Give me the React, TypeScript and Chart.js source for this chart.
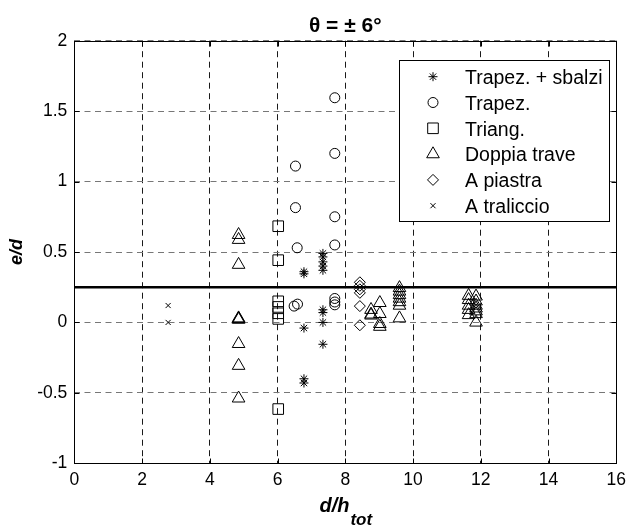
import React, { useEffect, useRef } from 'react';
import { Chart, registerables } from 'chart.js';

Chart.register(...registerables);

// ---- Axis ticks ----
const xTickValues = [0, 2, 4, 6, 8, 10, 12, 14, 16];
const xTickLabels = ['0', '2', '4', '6', '8', '10', '12', '14', '16'];
const yTickValues = [-1, -0.5, 0, 0.5, 1, 1.5, 2];
const yTickLabels = ['-1', '-0.5', '0', '0.5', '1', '1.5', '2'];

// ---- Texts ----
const titleText = 'θ = ± 6°';
const xLabelMain = 'd/h';
const xLabelSub = 'tot';
const yLabelText = 'e/d';

// ---- Series ----
const seriesLabels = ['Trapez. + sbalzi', 'Trapez.', 'Triang.', 'Doppia trave', 'A piastra', 'A traliccio'];

const trapSbalziX = [6.78, 6.78, 6.78, 6.78, 6.78, 7.34, 7.34, 7.34, 7.34, 7.34, 7.34, 7.34, 7.34, 7.34];
const trapSbalziY = [0.36, 0.345, -0.04, -0.40, -0.43, 0.49, 0.465, 0.43, 0.40, 0.37, 0.09, 0.07, 0.0, -0.155];

const trapezX = [6.53, 6.53, 6.58, 6.49, 6.59, 7.69, 7.69, 7.69, 7.69, 7.69, 7.69, 7.69];
const trapezY = [1.11, 0.815, 0.53, 0.116, 0.13, 1.595, 1.2, 0.75, 0.55, 0.17, 0.145, 0.125];

const triangX = [6.02, 6.02, 6.02, 6.02, 6.02, 6.02, 6.02];
const triangY = [0.683, 0.442, 0.15, 0.11, 0.065, 0.025, -0.615];

const doppiaX = [
  4.85, 4.85, 4.85, 4.85, 4.85, 4.85, 4.85, 4.85, 4.85,
  8.76, 8.76, 8.76,
  9.02, 9.02, 9.02, 9.02,
  9.6, 9.6, 9.6, 9.6, 9.6, 9.6, 9.6,
  11.64, 11.64, 11.64, 11.64, 11.64,
  11.86, 11.86, 11.86, 11.86, 11.86, 11.86, 11.86,
];
const doppiaY = [
  0.622, 0.587, 0.41, 0.03, 0.025, 0.02, -0.152, -0.307, -0.539,
  0.09, 0.057, 0.05,
  0.139, 0.061, -0.01, -0.03,
  0.245, 0.22, 0.195, 0.17, 0.145, 0.12, 0.03,
  0.19, 0.16, 0.12, 0.09, 0.053,
  0.185, 0.15, 0.12, 0.1, 0.08, 0.06, 0.0,
];

const piastraX = [8.43, 8.43, 8.43, 8.43, 8.43, 8.43];
const piastraY = [0.285, 0.26, 0.235, 0.21, 0.116, -0.02];

const tralicX = [2.77, 2.77];
const tralicY = [0.12, 0.0];

// reference line
const refLineX = [0, 16];
const refLineY = [0.25, 0.25];

const FONT = "'Liberation Sans', Arial, Helvetica, sans-serif";

const toPts = (xs: number[], ys: number[]) => xs.map((x, i) => ({ x, y: ys[i] }));

function drawMarker(ctx: CanvasRenderingContext2D, style: string, x: number, y: number, r: number) {
  ctx.beginPath();
  switch (style) {
    case 'circle':
      ctx.arc(x, y, r, 0, Math.PI * 2);
      ctx.closePath();
      break;
    case 'rect': {
      const s = Math.SQRT1_2 * r;
      ctx.rect(x - s, y - s, 2 * s, 2 * s);
      break;
    }
    case 'triangle': {
      let a = 0;
      ctx.moveTo(x + Math.sin(a) * r, y - Math.cos(a) * r);
      a += (2 * Math.PI) / 3;
      ctx.lineTo(x + Math.sin(a) * r, y - Math.cos(a) * r);
      a += (2 * Math.PI) / 3;
      ctx.lineTo(x + Math.sin(a) * r, y - Math.cos(a) * r);
      ctx.closePath();
      break;
    }
    case 'rectRot':
      ctx.moveTo(x - r, y);
      ctx.lineTo(x, y - r);
      ctx.lineTo(x + r, y);
      ctx.lineTo(x, y + r);
      ctx.closePath();
      break;
    case 'crossRot': {
      const o = Math.SQRT1_2 * r;
      ctx.moveTo(x - o, y - o);
      ctx.lineTo(x + o, y + o);
      ctx.moveTo(x - o, y + o);
      ctx.lineTo(x + o, y - o);
      break;
    }
    case 'star': {
      const o = Math.SQRT1_2 * r;
      ctx.moveTo(x, y - r);
      ctx.lineTo(x, y + r);
      ctx.moveTo(x - r, y);
      ctx.lineTo(x + r, y);
      ctx.moveTo(x - o, y - o);
      ctx.lineTo(x + o, y + o);
      ctx.moveTo(x - o, y + o);
      ctx.lineTo(x + o, y - o);
      break;
    }
  }
  ctx.stroke();
}

const labelFor = (vals: number[], labels: string[], v: number) => {
  const i = vals.findIndex((t) => Math.abs(t - v) < 1e-9);
  return i >= 0 ? labels[i] : '';
};

const decorPlugin = {
  id: 'matlabDecor',
  afterDraw(chart: any) {
    const ctx: CanvasRenderingContext2D = chart.ctx;
    const area = chart.chartArea;
    const xs = chart.scales.x;
    const ys = chart.scales.y;
    ctx.save();
    ctx.setLineDash([]);
    ctx.strokeStyle = '#000';
    ctx.lineWidth = 1;

    // inward ticks
    const tl = 5;
    const L = Math.round(area.left) + 0.5;
    const R = Math.round(area.right) + 0.5;
    const T = Math.round(area.top) + 0.5;
    const B = Math.round(area.bottom) + 0.5;
    ctx.beginPath();
    xTickValues.forEach((v) => {
      const px = Math.round(xs.getPixelForValue(v)) + 0.5;
      ctx.moveTo(px, B);
      ctx.lineTo(px, B - tl);
      ctx.moveTo(px, T);
      ctx.lineTo(px, T + tl);
    });
    yTickValues.forEach((v) => {
      const py = Math.round(ys.getPixelForValue(v)) + 0.5;
      ctx.moveTo(L, py);
      ctx.lineTo(L + tl, py);
      ctx.moveTo(R, py);
      ctx.lineTo(R - tl, py);
    });
    ctx.stroke();

    // axes box
    ctx.strokeRect(L, T, R - L, B - T);

    // title
    ctx.fillStyle = '#000';
    ctx.textAlign = 'center';
    ctx.textBaseline = 'alphabetic';
    ctx.font = `bold 21px ${FONT}`;
    const cx = (area.left + area.right) / 2;
    ctx.fillText(titleText, cx, 31.5);

    // x label with subscript
    ctx.textAlign = 'left';
    const mainFont = `italic bold 20px ${FONT}`;
    const subFont = `italic bold 17px ${FONT}`;
    ctx.font = mainFont;
    const w1 = ctx.measureText(xLabelMain).width;
    ctx.font = subFont;
    const w2 = ctx.measureText(xLabelSub).width;
    const startX = cx - (w1 + w2) / 2;
    ctx.font = mainFont;
    ctx.fillText(xLabelMain, startX, 512.3);
    ctx.font = subFont;
    ctx.fillText(xLabelSub, startX + w1 + 1, 525);

    // y label
    ctx.save();
    ctx.translate(21.7, (area.top + area.bottom) / 2);
    ctx.rotate(-Math.PI / 2);
    ctx.textAlign = 'center';
    ctx.font = `italic bold 18px ${FONT}`;
    ctx.fillText(yLabelText, 0, 0);
    ctx.restore();

    // legend
    const bx = 399.5, by = 60.5, bw = 210, bh = 161;
    ctx.fillStyle = '#fff';
    ctx.fillRect(bx, by, bw, bh);
    ctx.strokeStyle = '#000';
    ctx.lineWidth = 1;
    ctx.strokeRect(bx, by, bw, bh);
    ctx.font = `19.5px ${FONT}`;
    ctx.textAlign = 'left';
    ctx.textBaseline = 'alphabetic';
    const items = chart.data.datasets.filter((d: any) => !d.hideInLegend);
    items.forEach((d: any, i: number) => {
      const base = 84 + i * 25.8;
      const my = base - 7.3;
      ctx.strokeStyle = '#000';
      ctx.lineWidth = 1;
      drawMarker(ctx, d.pointStyle, 433, my, d.pointRadius);
      ctx.fillStyle = '#000';
      ctx.fillText(d.label, 465, base);
    });
    ctx.restore();
  },
};

export default function App() {
  const ref = useRef<HTMLCanvasElement | null>(null);

  useEffect(() => {
    if (!ref.current) return;
    const mk = (label: string, xs: number[], ys: number[], style: string, r: number) => ({
      type: 'scatter' as const,
      label,
      data: toPts(xs, ys),
      pointStyle: style,
      pointRadius: r,
      pointHoverRadius: r,
      borderColor: '#000',
      pointBorderColor: '#000',
      backgroundColor: 'rgba(0,0,0,0)',
      pointBackgroundColor: 'rgba(0,0,0,0)',
      borderWidth: 1,
      pointBorderWidth: 1,
    });

    const chart = new Chart(ref.current, {
      type: 'scatter',
      data: {
        datasets: [
          mk(seriesLabels[0], trapSbalziX, trapSbalziY, 'star', 4.5),
          mk(seriesLabels[1], trapezX, trapezY, 'circle', 5),
          mk(seriesLabels[2], triangX, triangY, 'rect', 7.5),
          mk(seriesLabels[3], doppiaX, doppiaY, 'triangle', 7.3),
          mk(seriesLabels[4], piastraX, piastraY, 'rectRot', 5.5),
          mk(seriesLabels[5], tralicX, tralicY, 'crossRot', 3.6),
          {
            type: 'line' as const,
            label: 'ref',
            hideInLegend: true,
            data: toPts(refLineX, refLineY),
            borderColor: '#000',
            borderWidth: 2.5,
            pointRadius: 0,
            showLine: true,
            fill: false,
          } as any,
        ],
      },
      options: {
        responsive: false,
        devicePixelRatio: 1,
        animation: false,
        events: [],
        layout: { padding: { left: 0, right: 12, top: 40.7, bottom: 0 } },
        plugins: {
          legend: { display: false },
          title: { display: false },
          tooltip: { enabled: false },
        },
        scales: {
          x: {
            type: 'linear',
            min: 0,
            max: 16,
            afterFit: (s: any) => {
              s.height = 530 - 463.3;
            },
            afterBuildTicks: (s: any) => {
              s.ticks = xTickValues.map((v) => ({ value: v }));
            },
            ticks: {
              color: '#000',
              padding: 6,
              font: { family: FONT, size: 17.5 },
              maxRotation: 0,
              autoSkip: false,
              callback: (v: any) => labelFor(xTickValues, xTickLabels, Number(v)),
            },
            grid: { color: '#1a1a1a', lineWidth: 1, drawTicks: false },
            border: { display: false, dash: [6, 4.5] },
          },
          y: {
            type: 'linear',
            min: -1,
            max: 2,
            afterFit: (s: any) => {
              s.width = 74.3;
            },
            afterBuildTicks: (s: any) => {
              s.ticks = yTickValues.map((v) => ({ value: v }));
            },
            ticks: {
              color: '#000',
              padding: 7,
              font: { family: FONT, size: 17.5 },
              autoSkip: false,
              callback: (v: any) => labelFor(yTickValues, yTickLabels, Number(v)),
            },
            grid: { color: '#777', lineWidth: 1, drawTicks: false },
            border: { display: false, dash: [6, 4.5] },
          },
        },
      } as any,
      plugins: [decorPlugin],
    });
    return () => chart.destroy();
  }, []);

  return (
    <div style={{ position: 'fixed', left: 0, top: 0, width: 632, height: 530, background: '#fff' }}>
      <canvas ref={ref} width={632} height={530} style={{ display: 'block', width: 632, height: 530 }} />
    </div>
  );
}
